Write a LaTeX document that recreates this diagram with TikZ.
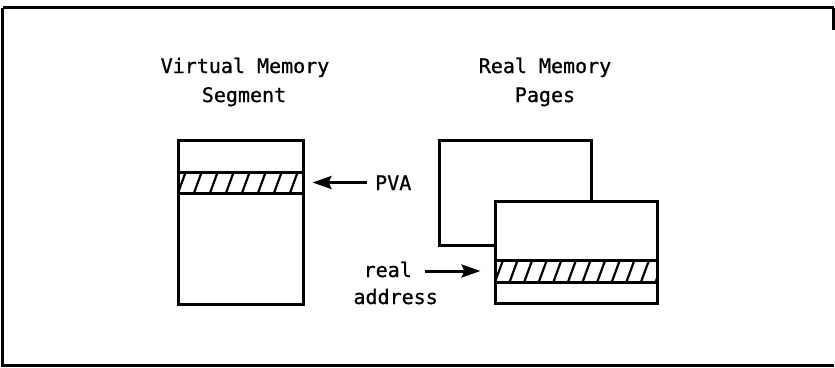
\documentclass[tikz,border=0pt]{standalone}
\usepackage{fontspec}
\newfontfamily\lblfont[FakeBold=0.9]{DejaVu Sans Mono}
\usetikzlibrary{arrows.meta}

\tikzset{
  lbl/.style={font=\lblfont\fontsize{20}{24}\selectfont, inner sep=0pt},
  mem/.style={draw, line width=3pt, fill=white, inner sep=0pt, line join=miter},
  hatched/.style={mem, path picture={
      \foreach \i in {-1,...,14}
        \draw[line width=2.2pt]
          ([xshift=\i*#1 pt]path picture bounding box.south west)
          -- ++(11,-30);
    }},
  hatched/.default=15.5,
  ptr/.style={line width=3pt, -{Stealth[length=19pt,width=13pt,inset=3pt]}},
  frame/.style={line width=2.4pt}
}

\begin{document}
\begin{tikzpicture}[x=1pt,y=-1pt]
  \useasboundingbox (0,0) rectangle (835,367);
  \draw[frame] (2.5,7.5) -- (833.5,7.5) (2.5,7.5) -- (2.5,365.5) -- (833.5,365.5) (833.5,7.5) -- (833.5,30);

  % headings
  \node[lbl, anchor=base] (vtitle1) at (245,73) {Virtual Memory};
  \node[lbl, anchor=base] (vtitle2) at (244,102) {Segment};
  \node[lbl, anchor=base] (rtitle1) at (545,73) {Real Memory};
  \node[lbl, anchor=base] (rtitle2) at (545,102) {Pages};

  % virtual memory segment with its hatched page
  \node[mem, minimum width=125pt, minimum height=164pt] (vseg) at (240.5,222) {};
  \node[mem, hatched=16, minimum width=125pt, minimum height=21pt] (vband) at (240.5,182.5) {};

  % real memory pages, the front one holding the hatched frame
  \node[mem, minimum width=152pt, minimum height=105pt] (page1) at (515,192.5) {};
  \node[mem, minimum width=162pt, minimum height=102pt] (page2) at (576,252) {};
  \node[mem, hatched=14.6, minimum width=162pt, minimum height=22pt] (fband) at (576,271) {};

  % labels and pointers
  \node[lbl, anchor=base west] (pva) at (375,190) {PVA};
  \node[lbl, anchor=base east] (real) at (412,277) {real};
  \node[lbl, anchor=base east] (addr) at (438,304) {address};

  \draw[ptr, shorten <=8pt, shorten >=8pt] (pva.west |- vband.east) -- (vband.east);
  \draw[ptr, shorten <=13pt, shorten >=13pt] (real.east |- fband.west) -- (fband.west);
\end{tikzpicture}
\end{document}
